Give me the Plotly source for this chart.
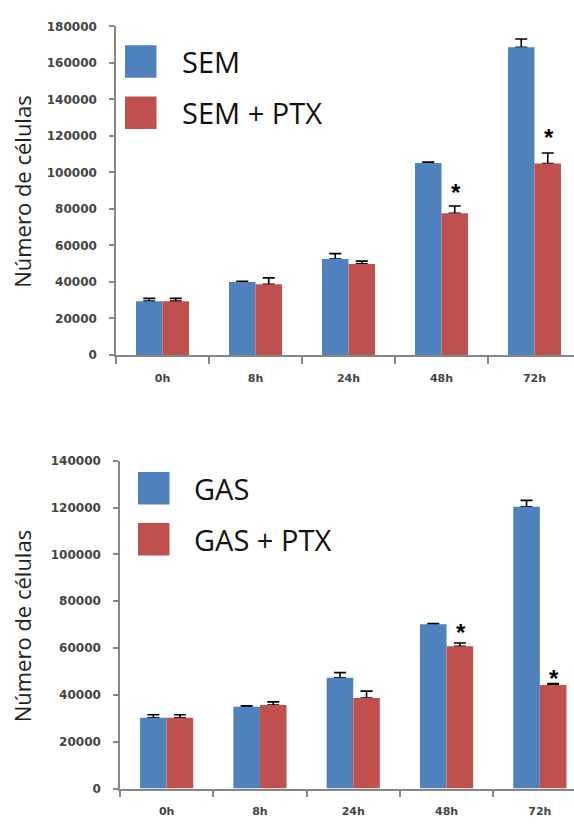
import plotly.graph_objects as go

# ---- data ----
times = ["0h", "8h", "24h", "48h", "72h"]

sem = [29500, 40000, 52600, 105100, 168600]
sem_err = [1500, 300, 2900, 600, 4500]
sem_ptx = [29500, 38750, 49900, 77600, 104900]
sem_ptx_err = [1500, 3500, 1500, 4000, 5700]

gas = [30200, 34900, 47300, 70200, 120400]
gas_err = [1300, 400, 2200, 300, 2700]
gas_ptx = [30200, 35700, 38700, 60800, 44200]
gas_ptx_err = [1300, 1300, 2900, 1400, 600]

top_names = ["SEM", "SEM + PTX"]
bottom_names = ["GAS", "GAS + PTX"]
significant = ["48h", "72h"]

y_title = "Número de células"
top_ticks = [0, 20000, 40000, 60000, 80000, 100000, 120000, 140000, 160000, 180000]
bottom_ticks = [0, 20000, 40000, 60000, 80000, 100000, 120000, 140000]

# ---- styling ----
W, H = 574, 825
BLUE = "#4F81BD"
RED = "#C0504D"
AXIS = "#868686"
YTICK_FONT = dict(family="DejaVu Sans", size=12, color="#444444", weight="bold")
XTICK_FONT = dict(family="DejaVu Sans", size=11, color="#444444", weight="bold")
TEXT_FONT = "Open Sans"


def px(x):
    return x / W


def py(y):
    return 1 - y / H


fig = go.Figure()


def add_series(vals, errs, name, color, group, xaxis, yaxis):
    # upward-only error bars carried by an invisible bar ...
    fig.add_trace(go.Bar(
        x=times, y=vals, name=name, offsetgroup=group,
        marker=dict(color="rgba(0,0,0,0)", line=dict(width=0)),
        error_y=dict(type="data", array=errs, arrayminus=[0] * len(errs),
                     symmetric=False, color="black", thickness=1.6, width=6),
        xaxis=xaxis, yaxis=yaxis, showlegend=False, hoverinfo="skip",
    ))
    # ... with the coloured bar drawn over it so only the "T" remains
    fig.add_trace(go.Bar(
        x=times, y=vals, name=name, offsetgroup=group,
        marker=dict(color=color, line=dict(width=0)),
        xaxis=xaxis, yaxis=yaxis, showlegend=False,
    ))


add_series(sem, sem_err, top_names[0], BLUE, "a", "x", "y")
add_series(sem_ptx, sem_ptx_err, top_names[1], RED, "b", "x", "y")
add_series(gas, gas_err, bottom_names[0], BLUE, "a", "x2", "y2")
add_series(gas_ptx, gas_ptx_err, bottom_names[1], RED, "b", "x2", "y2")

# panel geometry (pixels)
top_left, top_zero, top_max = 116, 354, 19.7
bot_left, bot_zero, bot_max = 120, 795, 461.7
cat_w_top, cat_w_bot = 93.0, 93.3

xcommon = dict(
    type="category", tickson="boundaries", ticks="outside", ticklen=7,
    tickcolor=AXIS, tickwidth=1.5, showline=True, linecolor=AXIS, linewidth=1.5,
    showgrid=False, zeroline=False, tickfont=XTICK_FONT, ticklabelstandoff=12,
)
ycommon = dict(
    ticks="outside", ticklen=5, tickcolor=AXIS, tickwidth=1.5, showline=True,
    linecolor=AXIS, linewidth=1.5, showgrid=False, zeroline=False,
    tickfont=YTICK_FONT, ticklabelstandoff=10, tickformat="d",
)

fig.update_layout(
    width=W, height=H, margin=dict(l=0, r=0, t=0, b=0),
    paper_bgcolor="white", plot_bgcolor="white",
    barmode="group", bargap=0.43, bargroupgap=0,
    xaxis=dict(xcommon, domain=[px(top_left), 1], anchor="y",
               range=[-0.5, -0.5 + (W - top_left) / cat_w_top]),
    yaxis=dict(ycommon, domain=[py(top_zero), py(top_max)], anchor="x",
               range=[0, 180000], tickvals=top_ticks),
    xaxis2=dict(xcommon, domain=[px(bot_left), 1], anchor="y2",
                range=[-0.5, -0.5 + (W - bot_left) / cat_w_bot]),
    yaxis2=dict(ycommon, domain=[py(bot_zero), py(bot_max)], anchor="x2",
                range=[0, 140000], tickvals=bottom_ticks),
)

# y axis titles
for ycen in [188, 630]:
    fig.add_annotation(
        text=y_title, x=px(22), y=py(ycen), xref="paper", yref="paper",
        textangle=-90, showarrow=False, xanchor="center", yanchor="middle",
        font=dict(family=TEXT_FONT, size=22, color="#222222"),
    )


# legends drawn as boxes + labels
def legend(x0, y_first, y_second, names, text_x):
    for (ya, yb), color, name in zip([y_first, y_second], [BLUE, RED], names):
        fig.add_shape(type="rect", xref="paper", yref="paper",
                      x0=px(x0), x1=px(x0 + 31.5), y0=py(yb), y1=py(ya),
                      fillcolor=color, line=dict(width=0))
        fig.add_annotation(text=name, x=px(text_x), y=py((ya + yb) / 2),
                           xref="paper", yref="paper", showarrow=False,
                           xanchor="left", yanchor="middle",
                           font=dict(family=TEXT_FONT, size=29, color="#111111"))


legend(125, (39, 72), (91, 124), top_names, 180)
legend(138, (473, 506), (525, 558), bottom_names, 192)


# significance markers above the treated bars
def stars(vals, errs, xref, yref, shifts):
    for t, s in zip(significant, shifts):
        i = times.index(t)
        fig.add_annotation(
            text="<b>*</b>", x=t, y=vals[i] + errs[i], xref=xref, yref=yref,
            xshift=14, yshift=s, showarrow=False, yanchor="middle",
            font=dict(family="Liberation Sans", size=24, color="black"),
        )


stars(sem_ptx, sem_ptx_err, "x", "y", [14, 16])
stars(gas_ptx, gas_ptx_err, "x2", "y2", [10, 5])

fig.write_html("out.html")
